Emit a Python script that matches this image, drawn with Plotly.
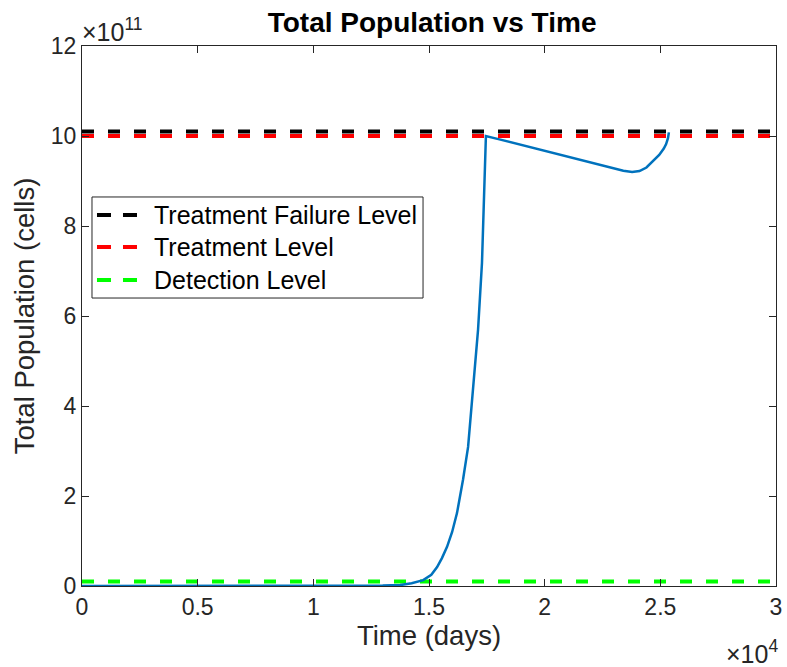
import plotly.graph_objects as go

# Simulated total tumour population over time (days, cells in units of 1e11)
time_days = [0, 2000, 4000, 6000, 8000, 10000, 12000, 13000, 13750, 14250,
             14750, 15100, 15350, 15560, 15780, 16000, 16210, 16470, 16690,
             16900, 16950, 17120, 17290, 17380, 17460,
             18000, 19000, 20000, 21000, 22000, 22500, 23000, 23400, 23780,
             24100, 24400, 24700, 24950, 25150, 25250, 25330, 25370]
pop_e11 = [0.0, 0.0, 0.0, 0.0005, 0.001, 0.003, 0.006, 0.01, 0.02, 0.06,
           0.13, 0.25, 0.42, 0.62, 0.87, 1.2, 1.62, 2.36, 3.09,
           4.36, 4.58, 5.69, 7.18, 8.64, 10.0,
           9.93, 9.80, 9.67, 9.54, 9.41, 9.34, 9.27, 9.23, 9.2,
           9.22, 9.3, 9.45, 9.58, 9.72, 9.82, 9.95, 10.08]

# Reference levels (cells)
failure_level = 1.01e12
treatment_level = 1.0e12
detection_level = 1.0e10

level_names = ["Treatment Failure Level", "Treatment Level", "Detection Level"]
level_values = [failure_level, treatment_level, detection_level]
level_colors = ["#000000", "#ff0000", "#00ff00"]

x_range = [0, 30000]
y_range = [0, 12e11]
x_tickvals = [0, 5000, 10000, 15000, 20000, 25000, 30000]
x_ticktext = ["0", "0.5", "1", "1.5", "2", "2.5", "3"]
y_tickvals = [0, 2e11, 4e11, 6e11, 8e11, 10e11, 12e11]
y_ticktext = ["0", "2", "4", "6", "8", "10", "12"]

FONT = "Liberation Sans, Arial, Helvetica, sans-serif"
INK = "#262626"

pop = [v * 1e11 for v in pop_e11]

fig = go.Figure()

# Horizontal levels across the full time span
for name, val, col in zip(level_names, level_values, level_colors):
    fig.add_trace(go.Scatter(
        x=x_range, y=[val, val], mode="lines", name=name, showlegend=False,
        line=dict(color=col, width=4, dash="12px,14px"), hoverinfo="skip"))

fig.add_trace(go.Scatter(
    x=time_days, y=pop, mode="lines", name="Total Population", showlegend=False,
    line=dict(color="#0072BD", width=2.5)))

axis_common = dict(
    showgrid=False, zeroline=False, showline=True, mirror="ticks",
    linecolor=INK, linewidth=1, ticks="inside", ticklen=7, tickcolor=INK,
    tickfont=dict(family=FONT, size=23, color=INK), automargin=False,
)

fig.update_xaxes(range=x_range, tickvals=x_tickvals, ticktext=x_ticktext,
                 title=dict(text="Time (days)", font=dict(family=FONT, size=27.5, color=INK),
                            standoff=3),
                 **axis_common)
fig.update_yaxes(range=y_range, tickvals=y_tickvals, ticktext=y_ticktext,
                 title=dict(text="Total Population (cells)",
                            font=dict(family=FONT, size=27.5, color=INK), standoff=8),
                 **axis_common)

# Axis exponent labels
fig.add_annotation(xref="paper", yref="paper", x=0, y=1, xanchor="left",
                   yanchor="bottom", showarrow=False, yshift=-2, xshift=-2,
                   text="×10<sup>11</sup>", font=dict(family=FONT, size=25, color=INK))
fig.add_annotation(xref="paper", yref="paper", x=1, y=0, xanchor="right",
                   yanchor="top", showarrow=False, yshift=-48, xshift=4,
                   text="×10<sup>4</sup>", font=dict(family=FONT, size=25, color=INK))

# Boxed legend in the upper-left part of the axes (paper coordinates)
box_x0, box_x1, box_y0, box_y1 = 0.0144, 0.4914, 0.5333, 0.7204
fig.add_shape(type="rect", xref="paper", yref="paper",
              x0=box_x0, x1=box_x1, y0=box_y0, y1=box_y1,
              line=dict(color=INK, width=1), fillcolor="white", layer="above")
row_y = [0.6870, 0.6278, 0.5667]
for name, col, ry in zip(level_names, level_colors, row_y):
    fig.add_shape(type="line", xref="paper", yref="paper",
                  x0=0.0216, x1=0.0793, y0=ry, y1=ry, layer="above",
                  line=dict(color=col, width=4, dash="14px,12px"))
    fig.add_annotation(xref="paper", yref="paper", x=0.1009, y=ry,
                       xanchor="left", yanchor="middle", showarrow=False,
                       text=name, font=dict(family=FONT, size=25, color="#000000"))

fig.update_layout(
    width=787, height=667,
    margin=dict(l=82, r=11, t=46, b=81),
    paper_bgcolor="white", plot_bgcolor="white",
    title=dict(text="<b>Total Population vs Time</b>", x=0.549, xanchor="center",
               y=0.967, yanchor="middle",
               font=dict(family=FONT, size=28, color="#000000")),
    showlegend=False,
)

fig.write_html("out.html")
